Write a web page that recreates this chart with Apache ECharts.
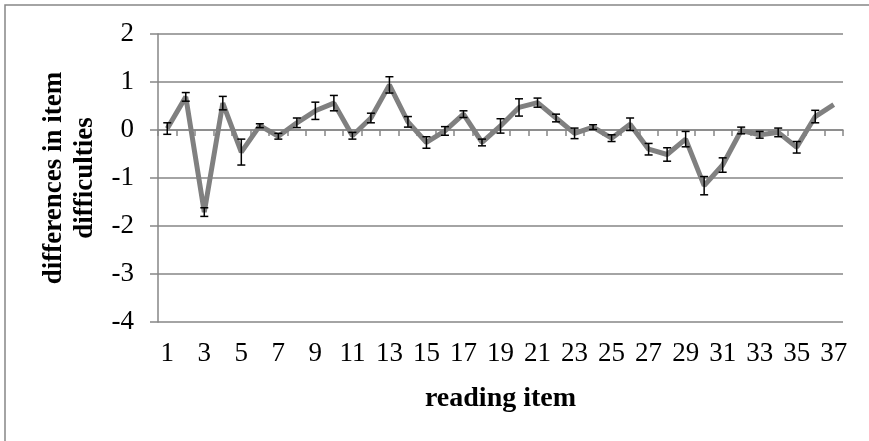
<!DOCTYPE html>
<html>
<head>
<meta charset="utf-8">
<script src="https://cdn.jsdelivr.net/npm/echarts@6/dist/echarts.min.js"></script>
<style>html,body{margin:0;padding:0;background:#fff;}#c{width:869px;height:441px;}</style>
</head>
<body>
<div id="c"></div>
<script>
const categories = ['1','2','3','4','5','6','7','8','9','10','11','12','13','14','15','16','17','18','19','20','21','22','23','24','25','26','27','28','29','30','31','32','33','34','35','36','37'];
const values = [0.03,0.69,-1.71,0.56,-0.46,0.09,-0.13,0.15,0.40,0.56,-0.12,0.25,0.94,0.17,-0.26,-0.02,0.33,-0.26,0.085,0.47,0.57,0.25,-0.07,0.06,-0.17,0.12,-0.40,-0.51,-0.19,-1.16,-0.73,-0.01,-0.10,-0.05,-0.36,0.28,0.53];
const errors = [0.12,0.09,0.09,0.14,0.27,0.04,0.06,0.10,0.18,0.16,0.07,0.10,0.17,0.11,0.12,0.09,0.07,0.07,0.15,0.18,0.095,0.08,0.11,0.05,0.07,0.13,0.12,0.14,0.16,0.19,0.15,0.07,0.07,0.09,0.12,0.13,0];
const yTicks = [-4,-3,-2,-1,0,1,2];

const chart = echarts.init(document.getElementById('c'), null, {renderer:'canvas'});
const gray = '#868686';
const font = '"Liberation Serif","Times New Roman",serif';
chart.setOption({
  animation:false,
  backgroundColor:'#fff',
  graphic:[{type:'rect', shape:{x:5,y:5,width:900,height:460}, style:{fill:'none',stroke:gray,lineWidth:1.5}, silent:true, z:-1}],
  grid:{left:158,right:26,top:34,bottom:119},
  xAxis:{
    type:'category', data:categories, boundaryGap:true,
    name:'reading item', nameLocation:'middle', nameGap:63,
    nameTextStyle:{fontFamily:font,fontSize:28,fontWeight:'bold',color:'#000'},
    axisLine:{lineStyle:{color:gray,width:1.5}},
    axisTick:{show:true,interval:0,length:6,lineStyle:{color:gray,width:1.5}},
    axisLabel:{interval:1,margin:18,fontFamily:font,fontSize:27,color:'#000'}
  },
  yAxis:{
    type:'value', min:yTicks[0], max:yTicks[yTicks.length-1], interval:1,
    name:'differences in item\ndifficulties', nameLocation:'middle', nameGap:54, nameRotate:90,
    nameTextStyle:{fontFamily:font,fontSize:27,fontWeight:'bold',color:'#000',lineHeight:31},
    axisLine:{show:true,lineStyle:{color:gray,width:1.5}},
    axisTick:{show:true,length:8,lineStyle:{color:gray,width:1.5}},
    splitLine:{lineStyle:{color:gray,width:1.5}},
    axisLabel:{margin:24,fontFamily:font,fontSize:27,color:'#000'}
  },
  series:[
    {type:'line', data:values, symbol:'none', lineStyle:{color:'#808080',width:5}, z:2},
    {type:'custom', z:3,
     data:values.map((v,i)=>[i,v,errors[i]]),
     renderItem:function(params,api){
       const x=api.value(0), v=api.value(1), e=api.value(2);
       if(!e) return null;
       const hi=api.coord([x,v+e]), lo=api.coord([x,v-e]);
       const w=4;
       const st={stroke:'#000',lineWidth:1.5};
       return {type:'group',children:[
         {type:'line',shape:{x1:hi[0],y1:hi[1],x2:lo[0],y2:lo[1]},style:st},
         {type:'line',shape:{x1:hi[0]-w,y1:hi[1],x2:hi[0]+w,y2:hi[1]},style:st},
         {type:'line',shape:{x1:lo[0]-w,y1:lo[1],x2:lo[0]+w,y2:lo[1]},style:st}
       ]};
     }}
  ]
});
</script>
</body>
</html>
